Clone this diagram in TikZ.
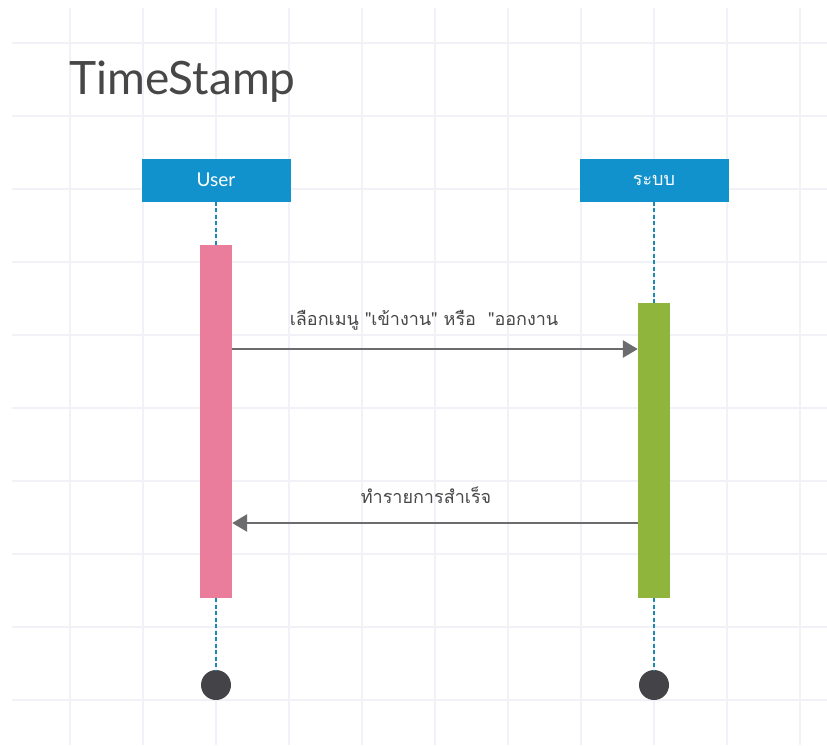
\documentclass[tikz,border=0pt]{standalone}
\usepackage{fontspec}
\setmainfont{Lato}
\newfontfamily\thaifont[Script=Thai]{Loma}
\usetikzlibrary{arrows.meta,positioning,calc}
\definecolor{gridline}{RGB}{240,242,247}
\definecolor{headblue}{RGB}{18,146,204}
\definecolor{actpink}{RGB}{234,124,156}
\definecolor{actgreen}{RGB}{143,181,60}
\definecolor{msggray}{RGB}{108,108,110}
\definecolor{lifeteal}{RGB}{28,138,170}
\definecolor{dotgray}{RGB}{68,68,72}
\tikzset{
    head/.style = {fill=headblue, minimum width=149pt, minimum height=43pt, inner sep=0pt,
                   text=white, font=\fontsize{19}{22}\selectfont},
    act/.style = {minimum width=32pt, inner sep=0pt},
    enddot/.style = {circle, fill=dotgray, minimum size=30pt, inner sep=0pt},
    life/.style = {lifeteal, line width=2pt, dash pattern=on 4pt off 2.5pt},
    msg/.style = {msggray, line width=2.8pt, -{Triangle[length=15pt,width=17pt]}},
    lbl/.style = {text=black!72, inner sep=0pt, font=\thaifont\fontsize{18}{21}\selectfont}
}
\begin{document}
\begin{tikzpicture}[x=1pt, y=-1pt]

    % page and grid
    \useasboundingbox (0,0) rectangle (827,745);
    \fill[white] (0,0) rectangle (827,745);
    \foreach \x in {70,143,...,800}
        \draw[gridline, line width=1.2pt] (\x,8) -- (\x,745);
    \foreach \y in {43,116,...,700}
        \draw[gridline, line width=1.2pt] (12,\y) -- (827,\y);

    % title
    \node[anchor=base west, inner sep=0pt, text=black!72,
          font=\fontsize{46}{50}\selectfont] (title) at (69,94) {TimeStamp};

    % participants
    \node[head] (user) at (216,180) {User};
    \node[head, font=\thaifont\fontsize{18}{21}\selectfont] (sys) at (654,180) {ระบบ};

    % activations and ends
    \node[act, fill=actpink, minimum height=353pt] (useract) at (216,421.5) {};
    \node[act, fill=actgreen, minimum height=295pt] (sysact) at (654,450.5) {};
    \node[enddot] (userend) at (216,685) {};
    \node[enddot] (sysend) at (654,685) {};

    % lifelines
    \draw[life] (user.south) -- (useract.north);
    \draw[life] (useract.south) -- (userend.north);
    \draw[life] (sys.south) -- (sysact.north);
    \draw[life] (sysact.south) -- (sysend.north);

    % messages
    \draw[msg] (useract.east |- 0,349) -- (sysact.west |- 0,349);
    \node[lbl] (choose) at (424,320) {เลือกเมนู "เข้างาน" หรือ\ \ "ออกงาน};
    \draw[msg] (sysact.west |- 0,523) -- (useract.east |- 0,523);
    \node[lbl] (done) at (426,495) {ทำรายการสำเร็จ};

\end{tikzpicture}
\end{document}
